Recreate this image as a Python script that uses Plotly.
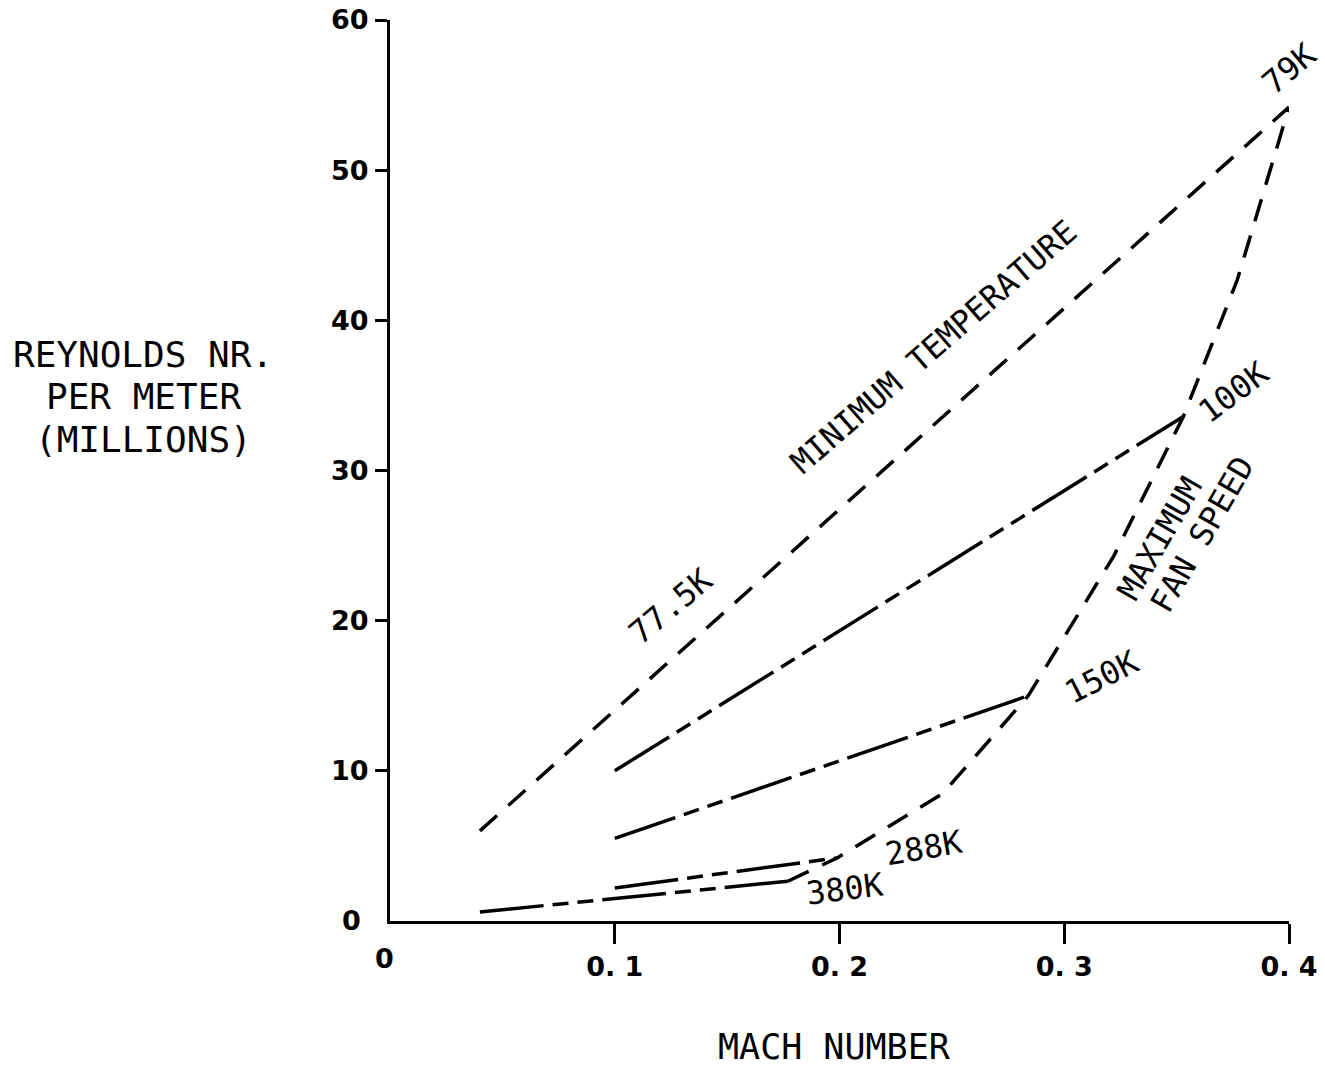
import plotly.graph_objects as go

# ---- data (Mach number vs Reynolds number per meter, millions) ----
mach_min_temp = [0.04, 0.40]
re_min_temp = [6.0, 54.2]

mach_100k = [0.10, 0.353]
re_100k = [10.0, 33.6]

mach_150k = [0.10, 0.284]
re_150k = [5.5, 15.0]

mach_288k = [0.10, 0.199]
re_288k = [2.2, 4.2]

mach_380k = [0.04, 0.177]
re_380k = [0.6, 2.65]

mach_fan = [0.177, 0.199, 0.246, 0.284, 0.322, 0.353, 0.377, 0.400]
re_fan = [2.65, 4.2, 8.5, 15.0, 24.3, 33.6, 42.7, 54.2]

x_tickvals = [0.1, 0.2, 0.3, 0.4]
x_ticktext = ["0. 1", "0. 2", "0. 3", "0. 4"]
y_tickvals = [10, 20, 30, 40, 50, 60]
y_ticktext = ["10", "20", "30", "40", "50", "60"]

DASH = "23px,15px"
DASHDOT = "64px,9px,16px,9px,16px,9px"
LW = 3.5
MONO = "DejaVu Sans Mono"
TICKF = "DejaVu Sans"

fig = go.Figure()

def add_line(x, y, dash):
    fig.add_trace(go.Scatter(
        x=x, y=y, mode="lines",
        line=dict(color="black", width=LW, dash=dash),
        cliponaxis=False, showlegend=False, hoverinfo="skip"))

add_line(mach_min_temp, re_min_temp, DASH)
add_line(mach_100k, re_100k, DASHDOT)
add_line(mach_150k, re_150k, DASHDOT)
add_line(mach_288k, re_288k, DASHDOT)
add_line(mach_380k, re_380k, DASHDOT)
add_line(mach_fan, re_fan, DASH)

def ann(text, x, y, size=32, angle=0, font=MONO, weight="normal"):
    fig.add_annotation(
        text=text, x=x, y=y, xref="paper", yref="paper", showarrow=False,
        textangle=angle, xanchor="center", yanchor="middle",
        font=dict(family=font, size=size, color="black", weight=weight))

# curve labels (paper coordinates)
ann("77.5K", 0.3125, 0.350, angle=-40)
ann("MINIMUM TEMPERATURE", 0.605, 0.6367, angle=-41)
ann("79K", 1.001, 0.9467, angle=-40)
ann("100K", 0.9388, 0.5867, angle=-37)
ann("150K", 0.792, 0.2708, angle=-27)
ann("MAXIMUM", 0.8565, 0.425, angle=-60)
ann("FAN SPEED", 0.9033, 0.4283, angle=-60)
ann("288K", 0.594, 0.081, angle=-10)
ann("380K", 0.506, 0.0355, angle=-7)

# axis titles
ann("MACH NUMBER", 0.4939, -0.1398, size=35)
ann("REYNOLDS NR.", -0.2747, 0.6282, size=36)
ann("PER METER", -0.2747, 0.5816, size=36)
ann("(MILLIONS)", -0.2747, 0.5339, size=36)

# zero labels
ann("0", -0.0423, 0.0011, size=27, font=TICKF, weight="bold")
ann("0", -0.0056, -0.0411, size=27, font=TICKF, weight="bold")

fig.update_layout(
    width=1325, height=1067,
    margin=dict(l=390, r=36, t=20, b=146, autoexpand=False),
    plot_bgcolor="white", paper_bgcolor="white",
    showlegend=False,
)
fig.update_xaxes(
    range=[0, 0.4], showgrid=False, zeroline=False, automargin=False,
    showline=True, linecolor="black", linewidth=3,
    ticks="outside", ticklen=20, tickwidth=2.5, tickcolor="black",
    tickvals=x_tickvals, ticktext=x_ticktext, ticklabelstandoff=0,
    tickfont=dict(family=TICKF, size=27, color="black", weight="bold"),
)
fig.update_yaxes(
    range=[0, 60], showgrid=False, zeroline=False, automargin=False,
    showline=True, linecolor="black", linewidth=3,
    ticks="outside", ticklen=12, tickwidth=2.5, tickcolor="black",
    tickvals=y_tickvals, ticktext=y_ticktext, ticklabelstandoff=1,
    tickfont=dict(family=TICKF, size=27, color="black", weight="bold"),
)

fig.write_html("out.html")
